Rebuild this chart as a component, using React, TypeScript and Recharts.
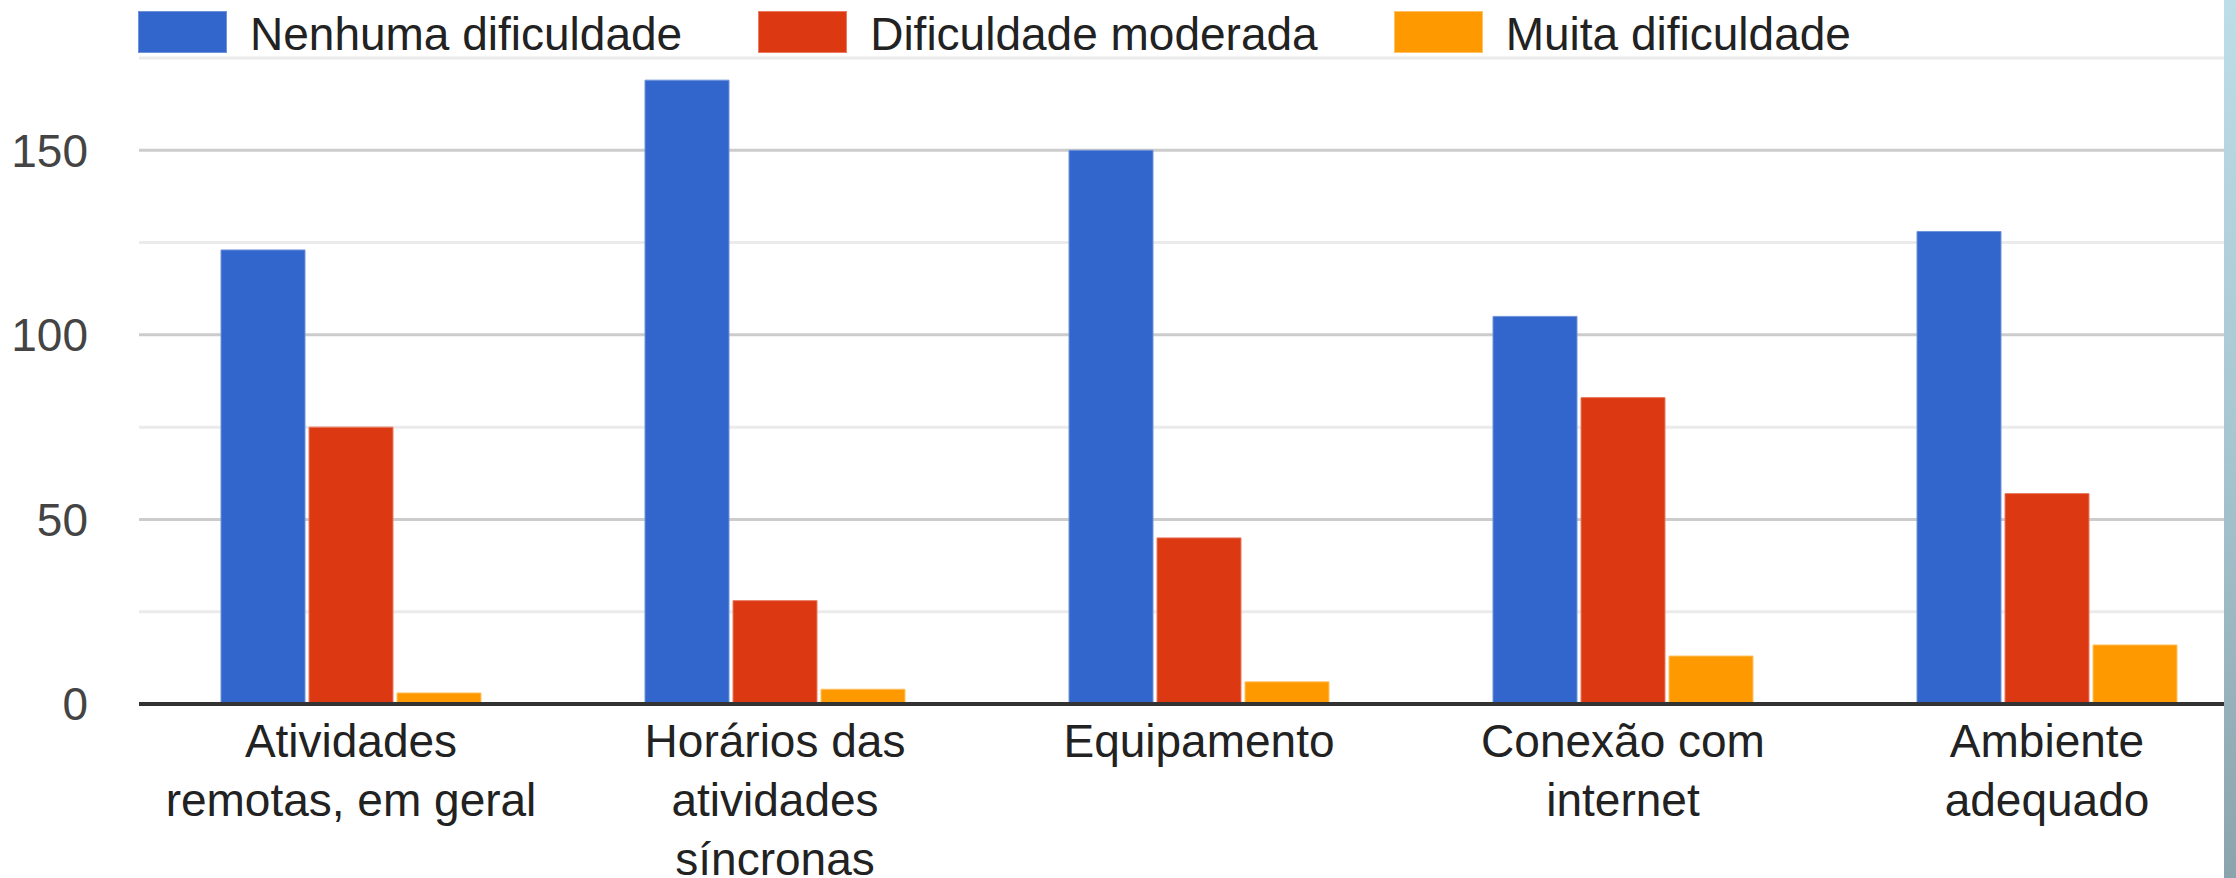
import React from 'react';
import { BarChart, Bar, XAxis, YAxis, CartesianGrid } from 'recharts';

const CATEGORIES = [
  'Atividades remotas, em geral',
  'Horários das atividades síncronas',
  'Equipamento',
  'Conexão com internet',
  'Ambiente adequado',
];
const CATEGORY_LINES = [
  ['Atividades', 'remotas, em geral'],
  ['Horários das', 'atividades', 'síncronas'],
  ['Equipamento'],
  ['Conexão com', 'internet'],
  ['Ambiente', 'adequado'],
];
const SERIES_NAMES = ['Nenhuma dificuldade', 'Dificuldade moderada', 'Muita dificuldade'];
const SERIES_KEYS = ['nenhuma', 'moderada', 'muita'];
const NENHUMA = [123, 169, 150, 105, 128];
const MODERADA = [75, 28, 45, 83, 57];
const MUITA = [3, 4, 6, 13, 16];
const Y_GRID = [0, 25, 50, 75, 100, 125, 150, 175];
const Y_LABELED = [0, 50, 100, 150];
const COLORS = ['#3366cc', '#dc3912', '#ff9900'];
const STROKES = ['#6f93db', '#ea7a60', '#ffc266'];

const FONT = '"Liberation Sans", Arial, Helvetica, sans-serif';

const data = CATEGORIES.map((c, i) => ({
  category: c,
  nenhuma: NENHUMA[i],
  moderada: MODERADA[i],
  muita: MUITA[i],
}));

const XTick = (props: any) => {
  const { x, y, payload } = props;
  const idx = CATEGORIES.indexOf(payload.value);
  const lines = idx >= 0 ? CATEGORY_LINES[idx] : [String(payload.value)];
  return (
    <text x={x} y={y + 53} textAnchor="middle" fill="#222222" fontSize={46} fontFamily={FONT}>
      {lines.map((l, i) => (
        <tspan key={i} x={x} dy={i === 0 ? 0 : 59}>
          {l}
        </tspan>
      ))}
    </text>
  );
};

const GridLine = (props: any) => {
  const { x1, x2, y1, y2, index } = props;
  const v = Y_GRID[index];
  const major = Y_LABELED.includes(v);
  return (
    <line
      key={`grid-${index}`}
      x1={x1}
      x2={x2}
      y1={y1}
      y2={y2}
      stroke={major ? '#cccccc' : '#ebebeb'}
      strokeWidth={3}
      fill="none"
    />
  );
};

export default function App() {
  return (
    <div
      style={{
        position: 'absolute',
        left: 0,
        top: 0,
        width: 2236,
        height: 878,
        overflow: 'hidden',
        background: '#ffffff',
        fontFamily: FONT,
      }}
    >
      <BarChart
        width={2270}
        height={878}
        data={data}
        margin={{ top: 58, right: 11, bottom: 0, left: 0 }}
        barCategoryGap={82}
        barGap={4}
      >
        <CartesianGrid vertical={false} horizontal={GridLine} />
        <YAxis
          width={139}
          domain={[0, 175]}
          ticks={Y_GRID}
          interval={0}
          tickFormatter={(v: number) => (Y_LABELED.includes(v) ? String(v) : '')}
          axisLine={false}
          tickLine={false}
          tickSize={0}
          tickMargin={51}
          tick={{ fill: '#444444', fontSize: 46, fontFamily: FONT }}
        />
        <XAxis
          dataKey="category"
          height={174}
          interval={0}
          tickLine={false}
          tickSize={0}
          tickMargin={0}
          axisLine={{ stroke: '#333333', strokeWidth: 4 }}
          tick={<XTick />}
        />
        {SERIES_KEYS.map((k, i) => (
          <Bar
            key={k}
            dataKey={k}
            name={SERIES_NAMES[i]}
            fill={COLORS[i]}
            stroke={STROKES[i]}
            strokeWidth={1}
            isAnimationActive={false}
          />
        ))}
      </BarChart>

      <div
        style={{
          position: 'absolute',
          left: 138,
          top: 11,
          display: 'flex',
          alignItems: 'flex-start',
          whiteSpace: 'nowrap',
        }}
      >
        {SERIES_NAMES.map((n, i) => (
          <div key={n} style={{ display: 'flex', alignItems: 'flex-start' }}>
            <div
              style={{
                width: 89,
                height: 42,
                boxSizing: 'border-box',
                background: COLORS[i],
                border: `1px solid ${STROKES[i]}`,
              }}
            />
            <span
              style={{
                marginLeft: 23,
                marginRight: i < SERIES_NAMES.length - 1 ? 76 : 0,
                fontSize: 46,
                lineHeight: '42px',
                color: '#222222',
                position: 'relative',
                top: 2,
                fontFamily: FONT,
              }}
            >
              {n}
            </span>
          </div>
        ))}
      </div>

      <div
        style={{
          position: 'absolute',
          left: 2224,
          top: 0,
          width: 12,
          height: 878,
          background: 'linear-gradient(to bottom, #bddde9, #a7c6d2 50%, #8ba3ac)',
        }}
      />
    </div>
  );
}
